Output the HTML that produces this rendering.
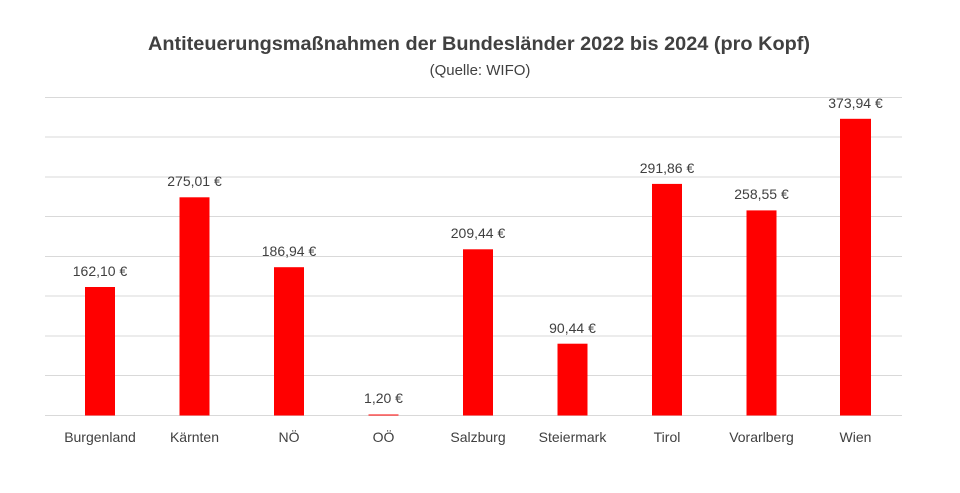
<!DOCTYPE html><html><head><style>body{margin:0;background:#fff}</style></head><body>
<svg width="960" height="488" xmlns="http://www.w3.org/2000/svg" font-family="Liberation Sans, sans-serif">
<rect width="960" height="488" fill="#fff"/>
<text x="148" y="50" font-size="19" font-weight="bold" fill="#404040" textLength="662" lengthAdjust="spacingAndGlyphs">Antiteuerungsmaßnahmen der Bundesländer 2022 bis 2024 (pro Kopf)</text>
<text x="480" y="75" text-anchor="middle" font-size="15" fill="#404040">(Quelle: WIFO)</text>
<g stroke="#d9d9d9" stroke-width="1">
<line x1="45" x2="902" y1="97.5" y2="97.5"/><line x1="45" x2="902" y1="137" y2="137"/><line x1="45" x2="902" y1="177" y2="177"/><line x1="45" x2="902" y1="216.5" y2="216.5"/><line x1="45" x2="902" y1="256.5" y2="256.5"/><line x1="45" x2="902" y1="296" y2="296"/><line x1="45" x2="902" y1="336" y2="336"/><line x1="45" x2="902" y1="375.5" y2="375.5"/><line x1="45" x2="902" y1="415.5" y2="415.5"/>
</g>
<g fill="#ff0000">
<rect x="85" y="287" width="30" height="128.5"/>
<rect x="179.5" y="197.3" width="30" height="218.2"/>
<rect x="274" y="267.2" width="30" height="148.3"/>
<rect x="368.5" y="414.5" width="30" height="1"/>
<rect x="463" y="249.3" width="30" height="166.2"/>
<rect x="557.5" y="343.7" width="30" height="71.8"/>
<rect x="652" y="183.9" width="30" height="231.6"/>
<rect x="746.5" y="210.4" width="30" height="205.1"/>
<rect x="840" y="118.8" width="31" height="296.7"/>
</g>
<g font-size="14" fill="#404040" text-anchor="middle">
<text x="100" y="276">162,10 €</text>
<text x="194.5" y="186">275,01 €</text>
<text x="289" y="256">186,94 €</text>
<text x="383.5" y="403">1,20 €</text>
<text x="478" y="238">209,44 €</text>
<text x="572.5" y="333">90,44 €</text>
<text x="667" y="173">291,86 €</text>
<text x="761.5" y="199">258,55 €</text>
<text x="855.5" y="108">373,94 €</text>
</g>
<g font-size="14" fill="#404040" text-anchor="middle">
<text x="100" y="442">Burgenland</text>
<text x="194.5" y="442">Kärnten</text>
<text x="289" y="442">NÖ</text>
<text x="383.5" y="442">OÖ</text>
<text x="478" y="442">Salzburg</text>
<text x="572.5" y="442">Steiermark</text>
<text x="667" y="442">Tirol</text>
<text x="761.5" y="442">Vorarlberg</text>
<text x="855.5" y="442">Wien</text>
</g>
</svg>
</body></html>
